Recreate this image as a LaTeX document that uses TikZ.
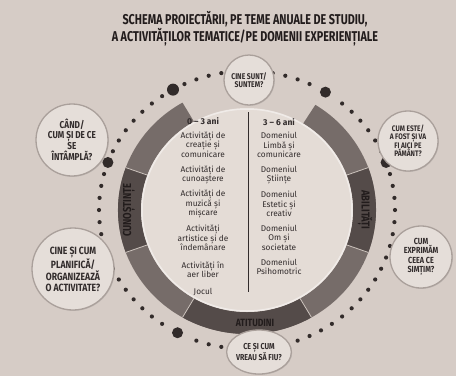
\documentclass[tikz,border=0pt]{standalone}
\usepackage{fontspec}
\setmainfont{Fira Sans}
\newfontfamily\condf[FakeStretch=0.82]{Fira Sans}
\newfontfamily\titlef[FakeStretch=0.76]{Fira Sans}
\usetikzlibrary{calc,shapes.geometric,shadows}
\definecolor{bgc}{RGB}{214,204,198}
\definecolor{discc}{RGB}{228,220,214}
\definecolor{qfill}{RGB}{229,222,217}
\definecolor{qborder}{RGB}{170,160,155}
\definecolor{ringc}{RGB}{118,108,105}
\definecolor{ringdark}{RGB}{84,75,73}
\definecolor{ringtxt}{RGB}{34,28,28}
\definecolor{sepc}{RGB}{205,196,190}
\definecolor{dotc}{RGB}{50,43,42}
\definecolor{textc}{RGB}{50,44,44}
\tikzset{
  qcircle/.style={circle, fill=qfill, draw=qborder, line width=1.3pt, align=center,
    text=textc, inner sep=0pt,
    drop shadow={shadow xshift=0.8pt, shadow yshift=-0.8pt, opacity=0.25}},
  bodytxt/.style={align=center, text=textc, font=\fontsize{8.3}{9.5}\selectfont, inner sep=0pt},
  headtxt/.style={align=center, text=textc, font=\bfseries\fontsize{8.5}{9.5}\selectfont, inner sep=0pt},
  ringlbl/.style={text=ringtxt, font=\condf\bfseries\fontsize{11.5}{12}\selectfont, inner sep=0pt},
  seg/.style={draw=sepc, line width=0.8pt}
}
\newcommand\ringseg[3]{%
  \fill[#3] ($(C)+({129*cos(-#1)},{124*sin(-#1)})$)
    arc[start angle=-#1, end angle=-#2, x radius=129, y radius=124]
    -- ($(C)+({106*cos(-#2)},{102*sin(-#2)})$)
    arc[start angle=-#2, end angle=-#1, x radius=106, y radius=102] -- cycle;}
\newcommand\ringsep[1]{%
  \draw[seg] ($(C)+({129*cos(-#1)},{124*sin(-#1)})$) -- ($(C)+({106*cos(-#1)},{102*sin(-#1)})$);}
\begin{document}
\begin{tikzpicture}[x=1pt,y=-1pt]
\fill[bgc] (0,0) rectangle (456,376);
\useasboundingbox (0,0) rectangle (456,376);
\coordinate (C) at (247,210);

% title
\node[font=\titlef\bfseries\fontsize{14.2}{15}\selectfont, text=ringtxt, align=center] (title) at (245,29)
  {SCHEMA PROIECTĂRII, PE TEME ANUALE DE STUDIU,\\A ACTIVITĂȚILOR TEMATICE/PE DOMENII EXPERIENȚIALE};

% dotted ring
\foreach \a in {0,5,10,15,25,30,...,50,65,70,...,115,125,130,...,155,165,170,...,235,250,255,...,355}
  \fill[dotc] ($(C)+({148*cos(-\a)},{139*sin(-\a)})$) circle (2.1);
\foreach \a/\r in {120/6,58/5.5,160/5.5,242/5.5,20/5.5}
  \fill[dotc] ($(C)+({148*cos(-\a)},{139*sin(-\a)})$) circle (\r);

% ring
\ringseg{120}{418}{ringc}
\ringseg{160}{200}{ringdark}
\ringseg{240}{300}{ringdark}
\ringseg{340}{380}{ringdark}
\foreach \a in {160,200,240,300,340,380} {\ringsep{\a}}
\node[ringlbl, rotate=90] (kn) at (129,210) {CUNOȘTINȚE};
\node[ringlbl, rotate=-90] (ab) at (365,210) {ABILITĂȚI};
\node[ringlbl, font=\condf\bfseries\fontsize{10.5}{11}\selectfont] (at) at (255,323) {ATITUDINI};

% inner disc
\fill[discc] (C) ellipse [x radius=106, y radius=102];
\draw[white, opacity=0.45, line width=1.5pt] (C) ellipse [x radius=105, y radius=101];

% divider
\coordinate (dtop) at (248,112);
\coordinate (dbot) at (248,292);
\draw[textc, line width=1pt] (dtop) -- (dbot);

% left column
\node[headtxt] (h1) at (203,121) {0 – 3 ani};
\node[bodytxt] (l1) at (203,144.5) {Activități de\\creație și\\comunicare};
\node[bodytxt] (l2) at (203,175) {Activități de\\cunoaștere};
\node[bodytxt] (l3) at (203,204) {Activități de\\muzică și\\mișcare};
\node[bodytxt] (l4) at (203,238) {Activități\\artistice și de\\îndemânare};
\node[bodytxt] (l5) at (203,270) {Activități în\\aer liber};
\node[bodytxt] (l6) at (203,292) {Jocul};

% right column
\node[headtxt] (h2) at (279,122) {3 – 6 ani};
\node[bodytxt] (r1) at (279,145) {Domeniul\\Limbă și\\comunicare};
\node[bodytxt] (r2) at (279,175) {Domeniul\\Științe};
\node[bodytxt] (r3) at (279,204) {Domeniul\\Estetic și\\creativ};
\node[bodytxt] (r4) at (279,237.5) {Domeniul\\Om și\\societate};
\node[bodytxt] (r5) at (279,267) {Domeniul\\Psihomotric};

% question circles
\node[qcircle, minimum size=50pt, font=\condf\bfseries\fontsize{8.3}{8.5}\selectfont] (qtop) at (249,80)
  {CINE SUNT/\\SUNTEM?};
\node[qcircle, minimum size=72pt, font=\condf\bfseries\fontsize{10}{9.6}\selectfont] (qlt) at (72,140)
  {CÂND/\\CUM ȘI DE CE\\SE\\ÎNTÂMPLĂ?};
\node[qcircle, minimum size=82pt, font=\condf\bfseries\fontsize{10.5}{10.7}\selectfont] (qlb) at (73,269)
  {CINE ȘI CUM\\PLANIFICĂ/\\ORGANIZEAZĂ\\O ACTIVITATE?};
\node[qcircle, minimum size=60pt, font=\condf\bfseries\fontsize{8}{8}\selectfont] (qrt) at (408,141)
  {CUM ESTE/\\A FOST ȘI VA\\FI AICI PE\\PĂMÂNT?};
\node[qcircle, minimum size=62pt, font=\condf\bfseries\fontsize{8.8}{9.5}\selectfont] (qrb) at (421,257)
  {CUM\\EXPRIMĂM\\CEEA CE\\SIMȚIM?};
\node[qcircle, ellipse, minimum width=64pt, minimum height=44pt, font=\condf\bfseries\fontsize{8.6}{10}\selectfont] (qbot) at (259,352)
  {CE ȘI CUM\\VREAU SĂ FIU?};
\end{tikzpicture}
\end{document}
